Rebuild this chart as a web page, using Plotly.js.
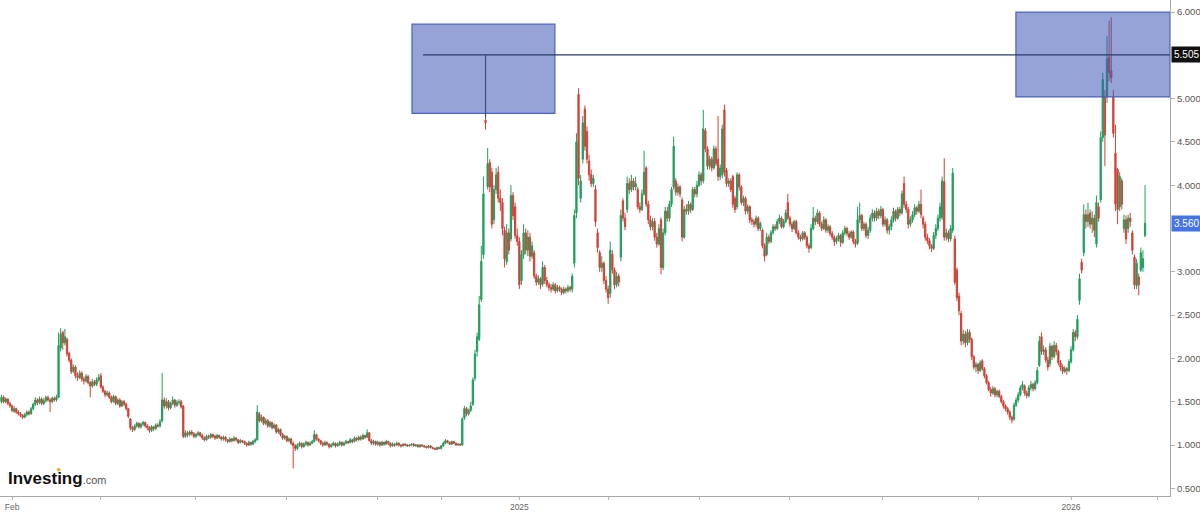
<!DOCTYPE html>
<html>
<head>
<meta charset="utf-8">
<script src="https://cdn.plot.ly/plotly-3.0.1.min.js"></script>
<style>html,body{margin:0;padding:0;background:#fff}#chart{width:1200px;height:512px}</style>
</head>
<body>
<div id="chart"></div>
<script>
// Daily OHLC, first session 2024-01-25 (weekdays only)
const openP = [
1.50,1.55,1.50,1.53,1.48,1.45,1.39,1.42,1.38,1.36,
1.34,1.32,1.35,1.38,1.36,1.42,1.47,1.52,1.49,1.53,
1.48,1.51,1.55,1.52,1.50,1.54,1.52,1.55,2.12,2.30,
2.18,2.22,2.06,1.98,1.85,1.90,1.80,1.78,1.83,1.76,
1.74,1.79,1.72,1.68,1.73,1.70,1.75,1.80,1.67,1.62,
1.58,1.60,1.55,1.50,1.56,1.48,1.52,1.45,1.50,1.47,
1.42,1.30,1.20,1.18,1.22,1.25,1.21,1.24,1.26,1.22,
1.20,1.17,1.21,1.19,1.23,1.22,1.28,1.52,1.45,1.50,
1.43,1.48,1.52,1.46,1.49,1.50,1.45,1.10,1.14,1.12,
1.15,1.13,1.10,1.12,1.14,1.11,1.08,1.06,1.10,1.09,
1.12,1.10,1.08,1.11,1.09,1.07,1.09,1.06,1.04,1.07,
1.05,1.08,1.06,1.03,1.05,1.04,1.02,1.00,1.03,1.01,
1.04,1.06,1.36,1.28,1.32,1.25,1.28,1.22,1.26,1.20,
1.23,1.15,1.18,1.12,1.08,1.10,1.05,1.07,1.02,0.99,
0.96,1.00,1.02,0.98,1.01,1.03,1.00,1.02,1.04,1.12,
1.07,1.05,1.02,1.00,1.03,1.01,0.98,1.00,1.02,0.99,
1.01,1.03,1.00,1.02,1.04,1.03,1.06,1.04,1.08,1.06,
1.09,1.07,1.11,1.09,1.14,1.05,1.02,1.04,1.01,1.03,
1.00,1.03,1.01,1.04,1.02,0.99,1.01,1.00,1.02,1.00,
0.99,1.01,1.00,0.99,1.00,1.01,0.99,1.00,0.98,1.00,
0.99,0.98,0.97,0.99,0.97,0.96,0.95,0.97,0.96,0.99,
1.02,1.05,1.03,1.01,1.04,1.02,1.00,1.01,1.00,1.31,
1.42,1.36,1.40,1.47,1.77,2.08,2.22,2.68,3.20,4.75,
3.98,4.26,4.15,3.60,3.95,4.15,3.85,3.80,3.48,3.12,
3.45,3.38,3.88,3.75,3.42,3.35,2.90,3.20,3.45,3.25,
3.40,3.18,3.22,2.95,2.88,2.92,2.86,3.05,2.90,2.85,
2.82,2.80,2.85,2.78,2.82,2.80,2.76,2.80,2.78,2.82,
2.80,3.10,3.68,5.05,3.85,4.30,4.88,4.62,4.28,4.12,
4.02,3.95,3.45,3.22,3.05,3.10,2.90,2.80,2.75,3.20,
3.02,2.85,2.95,3.17,3.82,3.62,3.72,4.02,3.95,4.05,
3.98,3.95,3.75,3.72,3.90,4.20,3.78,3.60,3.52,3.58,
3.40,3.32,3.60,3.05,3.45,3.70,3.62,3.78,3.98,4.05,
3.92,3.98,3.83,3.40,3.72,3.70,3.78,3.72,3.95,3.90,
4.00,4.12,4.05,4.63,4.42,4.22,4.30,4.20,4.42,4.30,
4.10,4.12,4.87,4.17,4.02,4.05,4.10,3.85,3.75,4.12,
3.98,3.80,3.85,3.70,3.75,3.60,3.58,3.55,3.62,3.50,
3.48,3.30,3.20,3.40,3.35,3.45,3.52,3.50,3.58,3.62,
3.52,3.58,3.80,3.62,3.55,3.50,3.58,3.45,3.40,3.38,
3.45,3.40,3.30,3.28,3.50,3.62,3.58,3.68,3.55,3.50,
3.60,3.48,3.52,3.44,3.40,3.35,3.38,3.42,3.34,3.45,
3.50,3.44,3.40,3.46,3.35,3.33,3.60,3.65,3.50,3.55,
3.42,3.48,3.62,3.68,3.62,3.70,3.65,3.72,3.55,3.60,
3.48,3.52,3.60,3.70,3.62,3.72,3.68,4.02,3.78,3.72,
3.55,3.60,3.66,3.74,3.70,3.78,3.62,3.55,3.40,3.36,
3.30,3.27,3.42,3.50,3.62,3.63,4.04,3.40,3.45,3.38,
3.48,3.38,3.02,2.72,2.52,2.20,2.28,2.18,2.30,2.22,
2.02,1.90,1.93,1.86,1.97,1.88,1.80,1.72,1.64,1.60,
1.65,1.58,1.62,1.56,1.50,1.45,1.42,1.38,1.32,1.30,
1.46,1.52,1.58,1.66,1.68,1.60,1.57,1.66,1.70,1.65,
1.72,1.92,2.25,2.08,2.10,1.98,1.94,2.14,2.02,2.15,
2.08,1.95,1.90,1.85,1.88,1.86,1.96,2.10,2.30,2.25,
2.67,3.11,3.22,3.66,3.58,3.68,3.55,3.62,3.32,3.75,
3.83,4.55,5.02,5.02,5.48,5.32,5.02,4.37,4.18,3.75,
4.05,3.50,3.60,3.50,3.62,3.45,3.17,2.84,2.94,3.02,3.05,3.42
];
const highP = [
1.58,1.57,1.55,1.54,1.50,1.47,1.45,1.43,1.40,1.38,
1.36,1.37,1.40,1.40,1.44,1.49,1.55,1.54,1.56,1.55,
1.54,1.57,1.57,1.54,1.56,1.56,1.58,2.30,2.35,2.32,
2.34,2.24,2.08,2.00,1.93,1.92,1.84,1.86,1.85,1.79,
1.82,1.81,1.74,1.76,1.75,1.78,1.82,1.83,1.69,1.64,
1.63,1.62,1.57,1.58,1.57,1.54,1.54,1.52,1.52,1.49,
1.43,1.31,1.22,1.24,1.27,1.26,1.26,1.28,1.27,1.24,
1.22,1.23,1.22,1.25,1.25,1.30,1.83,1.55,1.54,1.52,
1.50,1.56,1.53,1.52,1.53,1.52,1.46,1.17,1.16,1.17,
1.17,1.15,1.14,1.16,1.15,1.13,1.10,1.12,1.12,1.14,
1.13,1.12,1.13,1.12,1.10,1.11,1.10,1.07,1.09,1.08,
1.10,1.09,1.07,1.07,1.06,1.05,1.03,1.05,1.04,1.06,
1.08,1.46,1.38,1.35,1.33,1.31,1.30,1.28,1.27,1.25,
1.24,1.20,1.19,1.14,1.12,1.11,1.09,1.08,1.04,1.01,
1.02,1.04,1.03,1.03,1.05,1.04,1.04,1.06,1.17,1.13,
1.08,1.06,1.04,1.05,1.04,1.02,1.02,1.04,1.03,1.03,
1.05,1.04,1.04,1.06,1.05,1.08,1.07,1.10,1.09,1.11,
1.11,1.13,1.12,1.18,1.15,1.07,1.06,1.05,1.05,1.04,
1.05,1.04,1.06,1.05,1.03,1.03,1.02,1.04,1.03,1.01,
1.02,1.02,1.01,1.01,1.02,1.02,1.01,1.01,1.01,1.01,
1.00,0.99,1.00,1.00,0.98,0.97,0.98,0.98,1.00,1.04,
1.07,1.06,1.04,1.05,1.05,1.03,1.02,1.02,1.32,1.45,
1.44,1.42,1.50,1.78,2.10,2.30,2.72,3.30,4.10,4.78,
4.43,4.30,4.20,4.00,4.20,4.22,3.95,3.85,3.52,3.55,
3.50,4.00,3.92,3.80,3.50,3.40,3.25,3.55,3.50,3.48,
3.45,3.35,3.25,2.98,2.96,2.94,3.12,3.08,2.94,2.88,
2.86,2.88,2.87,2.85,2.84,2.82,2.83,2.82,2.85,2.84,
2.98,3.72,4.60,5.12,4.12,4.80,4.92,4.68,4.35,4.18,
4.12,4.00,3.50,3.25,3.18,3.12,2.95,2.84,3.35,3.25,
3.05,3.00,2.98,3.72,3.85,3.68,4.10,4.08,4.12,4.08,
4.10,3.98,3.80,3.95,4.40,4.22,3.82,3.65,3.62,3.62,
3.45,3.55,3.63,3.50,3.75,3.75,3.82,3.98,4.56,4.08,
4.02,4.00,3.86,3.76,3.78,3.82,3.80,3.98,3.98,4.05,
4.16,4.15,4.87,4.66,4.45,4.34,4.33,4.46,4.45,4.80,
4.24,4.70,4.93,4.20,4.08,4.08,4.12,3.88,4.15,4.14,
4.00,3.88,3.87,3.78,3.77,3.63,3.61,3.65,3.64,3.58,
3.50,3.33,3.45,3.43,3.48,3.55,3.55,3.61,3.66,3.64,
3.61,3.72,3.90,3.65,3.58,3.60,3.60,3.48,3.43,3.47,
3.47,3.42,3.33,3.55,3.75,3.65,3.72,3.70,3.58,3.64,
3.62,3.55,3.54,3.47,3.42,3.41,3.45,3.44,3.48,3.53,
3.52,3.47,3.48,3.48,3.38,3.75,3.80,3.67,3.58,3.57,
3.52,3.66,3.72,3.71,3.74,3.73,3.76,3.74,3.64,3.62,
3.55,3.64,3.74,3.72,3.75,3.75,3.94,4.10,3.82,3.75,
3.64,3.70,3.78,3.76,3.82,3.95,3.65,3.58,3.44,3.39,
3.32,3.46,3.55,3.66,3.80,4.10,4.31,3.50,3.48,3.54,
4.20,3.42,3.05,2.76,2.55,2.33,2.32,2.34,2.33,2.24,
2.04,1.96,1.95,1.98,1.99,1.90,1.82,1.74,1.67,1.68,
1.67,1.64,1.64,1.58,1.52,1.47,1.44,1.40,1.34,1.49,
1.55,1.61,1.69,1.74,1.70,1.63,1.69,1.74,1.72,1.75,
1.90,2.26,2.30,2.15,2.13,2.02,2.18,2.16,2.20,2.18,
2.10,1.98,1.93,1.91,1.90,1.99,2.14,2.34,2.33,2.50,
2.98,3.15,3.78,3.72,3.80,3.72,3.70,3.66,3.88,3.80,
4.62,5.30,5.10,5.72,5.90,5.94,5.10,4.70,4.20,4.15,
4.08,3.66,3.65,3.66,3.68,3.48,3.20,3.15,2.98,3.28,3.25,4.00
];
const lowP = [
1.48,1.48,1.48,1.46,1.43,1.38,1.37,1.36,1.34,1.32,
1.30,1.31,1.33,1.34,1.35,1.40,1.45,1.46,1.47,1.46,
1.46,1.49,1.50,1.38,1.48,1.50,1.50,1.54,2.08,2.10,
2.15,2.02,1.95,1.82,1.83,1.77,1.74,1.76,1.73,1.70,
1.72,1.70,1.55,1.66,1.68,1.68,1.73,1.65,1.60,1.55,
1.56,1.53,1.48,1.49,1.46,1.46,1.43,1.44,1.45,1.40,
1.31,1.17,1.15,1.16,1.20,1.19,1.19,1.22,1.20,1.17,
1.14,1.15,1.16,1.17,1.20,1.20,1.26,1.42,1.42,1.40,
1.41,1.46,1.43,1.44,1.46,1.42,1.08,1.08,1.09,1.10,
1.11,1.08,1.08,1.10,1.09,1.06,1.04,1.05,1.07,1.07,
1.08,1.06,1.07,1.07,1.05,1.05,1.04,1.02,1.03,1.03,
1.04,1.04,1.01,1.02,1.02,1.00,0.98,0.99,0.99,1.00,
1.02,1.05,1.26,1.26,1.23,1.23,1.20,1.20,1.18,1.18,
1.13,1.13,1.10,1.06,1.06,1.03,1.03,1.00,0.73,0.93,
0.94,0.98,0.96,0.97,0.99,0.98,0.99,1.01,1.03,1.05,
1.03,1.00,0.98,0.99,0.99,0.96,0.97,0.99,0.97,0.98,
0.99,0.98,0.99,1.01,1.01,1.02,1.02,1.03,1.04,1.05,
1.05,1.06,1.07,1.08,1.04,1.00,1.00,0.99,0.99,0.98,
0.99,0.99,1.00,1.00,0.97,0.98,0.98,0.99,0.98,0.97,
0.98,0.99,0.98,0.98,0.99,0.98,0.98,0.97,0.97,0.98,
0.97,0.96,0.96,0.96,0.95,0.94,0.94,0.95,0.95,0.98,
1.01,1.02,1.00,1.00,1.01,0.99,0.99,0.99,0.99,1.29,
1.33,1.34,1.38,1.45,1.74,2.02,2.20,2.65,3.15,4.64,
3.95,3.92,3.50,3.55,3.90,3.80,3.70,3.42,3.05,3.08,
3.20,3.35,3.60,3.38,3.30,2.80,2.85,3.15,3.20,3.18,
3.12,3.15,2.92,2.84,2.85,2.80,2.83,2.86,2.82,2.78,
2.76,2.78,2.75,2.76,2.77,2.73,2.74,2.75,2.76,2.77,
2.76,3.05,3.62,4.00,3.80,4.25,4.40,4.25,4.05,3.98,
3.98,3.52,3.22,3.00,3.00,2.86,2.76,2.63,2.70,2.98,
2.80,2.82,2.83,3.12,3.58,3.48,3.68,3.90,3.92,3.94,
3.94,3.72,3.68,3.70,3.88,3.75,3.55,3.48,3.48,3.36,
3.28,3.30,2.97,3.02,3.42,3.58,3.58,3.75,3.95,3.88,
3.88,3.86,3.35,3.38,3.66,3.66,3.68,3.70,3.86,3.86,
3.98,4.00,4.02,4.38,4.18,4.18,4.16,4.18,4.22,4.05,
4.06,4.08,4.10,3.98,3.98,3.92,3.74,3.68,3.72,3.94,
3.77,3.76,3.66,3.67,3.56,3.54,3.51,3.52,3.47,3.47,
3.27,3.12,3.18,3.32,3.33,3.43,3.47,3.48,3.55,3.50,
3.50,3.56,3.60,3.52,3.46,3.48,3.43,3.37,3.35,3.36,
3.37,3.27,3.22,3.26,3.48,3.54,3.55,3.52,3.47,3.48,
3.45,3.45,3.41,3.37,3.30,3.32,3.35,3.29,3.32,3.42,
3.41,3.37,3.38,3.32,3.28,3.31,3.56,3.47,3.47,3.39,
3.38,3.45,3.58,3.58,3.59,3.61,3.62,3.52,3.52,3.44,
3.43,3.48,3.57,3.58,3.60,3.64,3.66,3.74,3.68,3.50,
3.52,3.57,3.63,3.66,3.68,3.62,3.50,3.36,3.32,3.26,
3.23,3.25,3.38,3.47,3.58,3.60,3.36,3.36,3.34,3.35,
3.45,2.85,2.66,2.50,2.15,2.16,2.13,2.15,2.18,1.98,
1.87,1.84,1.82,1.84,1.86,1.77,1.70,1.62,1.56,1.58,
1.55,1.55,1.54,1.48,1.42,1.39,1.35,1.29,1.25,1.28,
1.44,1.49,1.56,1.63,1.57,1.54,1.55,1.63,1.62,1.63,
1.70,1.90,2.04,2.04,1.95,1.86,1.90,1.98,2.00,2.04,
1.92,1.86,1.82,1.83,1.81,1.84,1.94,2.08,2.20,2.22,
2.62,2.98,3.18,3.50,3.52,3.50,3.45,3.40,3.28,3.58,
3.80,4.50,4.22,4.95,5.20,5.18,4.55,3.70,3.55,3.70,
3.72,3.45,3.32,3.45,3.52,3.20,2.80,2.80,2.73,3.00,3.00,3.40
];
const closeP = [
1.55,1.50,1.53,1.48,1.45,1.40,1.42,1.38,1.36,1.34,
1.32,1.35,1.38,1.36,1.42,1.47,1.52,1.49,1.53,1.48,
1.51,1.55,1.52,1.50,1.54,1.52,1.55,2.15,2.28,2.18,
2.25,2.05,1.98,1.85,1.90,1.80,1.78,1.83,1.76,1.74,
1.79,1.72,1.68,1.73,1.70,1.75,1.78,1.67,1.62,1.58,
1.60,1.55,1.50,1.56,1.48,1.52,1.45,1.50,1.47,1.42,
1.33,1.20,1.18,1.22,1.25,1.21,1.24,1.26,1.22,1.20,
1.17,1.21,1.19,1.23,1.22,1.27,1.52,1.45,1.50,1.43,
1.48,1.52,1.46,1.49,1.50,1.44,1.10,1.14,1.12,1.15,
1.13,1.10,1.12,1.14,1.11,1.08,1.06,1.10,1.09,1.12,
1.10,1.08,1.11,1.09,1.07,1.09,1.06,1.04,1.07,1.05,
1.08,1.06,1.03,1.05,1.04,1.02,1.00,1.03,1.01,1.04,
1.06,1.38,1.28,1.32,1.25,1.28,1.22,1.26,1.20,1.23,
1.15,1.18,1.12,1.08,1.10,1.05,1.07,1.02,0.99,0.96,
1.00,1.02,0.98,1.01,1.03,1.00,1.02,1.04,1.12,1.07,
1.05,1.02,1.00,1.03,1.01,0.98,1.00,1.02,0.99,1.01,
1.03,1.00,1.02,1.04,1.03,1.06,1.04,1.08,1.06,1.09,
1.07,1.11,1.09,1.14,1.05,1.02,1.04,1.01,1.03,1.00,
1.03,1.01,1.04,1.02,0.99,1.01,1.00,1.02,1.00,0.99,
1.01,1.00,0.99,1.00,1.01,0.99,1.00,0.98,1.00,0.99,
0.98,0.97,0.99,0.97,0.96,0.95,0.97,0.96,0.99,1.02,
1.05,1.03,1.01,1.04,1.02,1.00,1.01,1.00,1.30,1.42,
1.36,1.40,1.45,1.75,2.05,2.25,2.62,3.12,3.90,4.72,
4.25,3.98,3.55,3.95,4.12,3.85,3.80,3.50,3.15,3.45,
3.25,3.88,3.65,3.42,3.35,2.85,3.20,3.45,3.25,3.40,
3.18,3.30,2.95,2.88,2.92,2.85,3.05,2.90,2.85,2.82,
2.80,2.85,2.78,2.82,2.80,2.76,2.80,2.78,2.82,2.80,
2.95,3.65,4.50,4.08,4.05,4.72,4.45,4.30,4.12,4.02,
4.08,3.58,3.28,3.05,3.10,2.90,2.80,2.70,3.25,3.02,
2.85,2.95,2.88,3.65,3.62,3.52,4.02,3.95,4.05,3.98,
4.02,3.75,3.72,3.90,4.15,3.78,3.60,3.52,3.58,3.40,
3.32,3.50,3.05,3.45,3.70,3.62,3.78,3.95,4.45,3.92,
3.98,3.90,3.40,3.72,3.70,3.78,3.72,3.95,3.90,4.00,
4.12,4.05,4.65,4.42,4.22,4.30,4.20,4.42,4.25,4.10,
4.20,4.65,4.15,4.02,4.05,3.95,3.78,3.72,4.12,3.98,
3.80,3.85,3.70,3.75,3.60,3.58,3.55,3.62,3.50,3.56,
3.30,3.18,3.40,3.35,3.45,3.52,3.50,3.58,3.62,3.52,
3.58,3.68,3.62,3.55,3.50,3.58,3.45,3.40,3.38,3.45,
3.40,3.30,3.27,3.50,3.62,3.58,3.68,3.55,3.50,3.60,
3.48,3.52,3.44,3.40,3.35,3.38,3.42,3.34,3.45,3.50,
3.44,3.40,3.46,3.35,3.32,3.60,3.65,3.50,3.55,3.42,
3.48,3.62,3.68,3.62,3.70,3.65,3.72,3.55,3.60,3.48,
3.52,3.60,3.70,3.62,3.72,3.68,3.90,3.78,3.72,3.55,
3.60,3.66,3.74,3.70,3.78,3.66,3.55,3.40,3.36,3.30,
3.27,3.42,3.50,3.62,3.75,4.05,3.40,3.45,3.38,3.50,
4.14,2.88,2.70,2.55,2.20,2.28,2.18,2.30,2.22,2.02,
1.90,1.93,1.86,1.95,1.88,1.80,1.72,1.64,1.60,1.65,
1.58,1.62,1.56,1.50,1.45,1.42,1.38,1.32,1.29,1.46,
1.52,1.58,1.66,1.70,1.60,1.57,1.66,1.70,1.65,1.72,
1.86,2.20,2.08,2.10,1.98,1.90,2.14,2.02,2.15,2.08,
1.95,1.90,1.85,1.88,1.86,1.96,2.10,2.30,2.25,2.45,
2.92,3.02,3.66,3.58,3.66,3.55,3.62,3.48,3.80,3.62,
4.55,5.22,4.58,5.46,5.30,5.24,4.60,3.78,3.72,4.10,
3.78,3.60,3.38,3.62,3.58,3.25,2.85,3.10,2.85,3.22,3.15,3.56
];
// axis labels (3.500 and 5.500 sit under the price flags)
const yTicks = [0.5,1,1.5,2,2.5,3,4,4.5,5,6];
const xTickDates = ['2024-02-01','2024-04-01','2024-06-03','2024-08-01','2024-10-01','2024-11-12','2025-01-02','2025-03-03','2025-05-01','2025-07-01','2025-09-01','2025-11-03','2026-01-02','2026-03-02'];
const xTickText  = ['Feb','','','','','','2025','','','','','','2026',''];
const markedLevel = 5.505;
const lastPrice = 3.560;

// trading-day calendar (weekdays)
const dates = [];
for (let d = new Date(Date.UTC(2024,0,25)); d <= new Date(Date.UTC(2026,2,10)); d.setUTCDate(d.getUTCDate()+1)) {
  const w = d.getUTCDay();
  if (w !== 0 && w !== 6) dates.push(d.toISOString().slice(0,10));
}
const idx = s => dates.findIndex(v => v >= s);
const xs = closeP.map((_, i) => i);

const green = '#1f9e5c', red = '#cf4238';
const trace = {
  type: 'candlestick',
  x: xs, open: openP, high: highP, low: lowP, close: closeP,
  text: xs.map(i => dates[i]),
  increasing: {line: {color: green, width: 1}, fillcolor: green},
  decreasing: {line: {color: red, width: 1}, fillcolor: red},
  whiskerwidth: 0,
  hoverinfo: 'none'
};

const xMax = 552.8;
const boxFill = 'rgba(62,88,180,0.55)';
const boxLine = 'rgba(70,92,190,0.95)';
const layout = {
  width: 1200, height: 512,
  margin: {l: 0, r: 30, t: 0, b: 16},
  paper_bgcolor: '#ffffff', plot_bgcolor: '#ffffff',
  showlegend: false,
  boxgap: 0.15,
  font: {family: 'Liberation Sans, Arial, sans-serif'},
  xaxis: {
    range: [-0.7, xMax], showgrid: false, zeroline: false,
    showline: true, linecolor: '#a9a9a9', linewidth: 1,
    ticks: 'outside', ticklen: 3, tickcolor: '#b5b5b5',
    tickvals: xTickDates.map(idx), ticktext: xTickText,
    tickfont: {size: 8.5, color: '#666'},
    rangeslider: {visible: false}, automargin: false, fixedrange: true
  },
  yaxis: {
    side: 'right', range: [0.411, 6.139], showgrid: false, zeroline: false,
    showline: true, linecolor: '#a9a9a9', linewidth: 1,
    ticks: 'outside', ticklen: 4, tickcolor: '#b5b5b5',
    tickvals: yTicks, tickformat: '.3f',
    tickfont: {size: 9.5, color: '#555'}, automargin: false, fixedrange: true
  },
  shapes: [
    {type: 'rect', xref: 'x', yref: 'y', x0: 194.2, x1: 261.8, y0: 4.83, y1: 5.86,
     fillcolor: boxFill, line: {color: boxLine, width: 1.2}, layer: 'above'},
    {type: 'rect', xref: 'x', yref: 'y', x0: 479.9, x1: xMax, y0: 5.02, y1: 6.0,
     fillcolor: boxFill, line: {color: boxLine, width: 1.2}, layer: 'above'},
    {type: 'line', xref: 'x', yref: 'y', x0: 199.4, x1: xMax, y0: markedLevel, y1: markedLevel,
     line: {color: '#2b3a6b', width: 1.2}, layer: 'above'},
    {type: 'line', xref: 'x', yref: 'y', x0: 229, x1: 229, y0: markedLevel, y1: 4.78,
     line: {color: '#3a4c7a', width: 1.2}, layer: 'above'},
    {type: 'circle', xref: 'paper', yref: 'paper', x0: 56.8/1170, x1: 60.4/1170, y0: (496-471.6)/496, y1: (496-468)/496,
     fillcolor: '#f5a623', line: {width: 0}, layer: 'above'}
  ],
  annotations: [
    {xref: 'paper', yref: 'y', x: 1, y: markedLevel, xanchor: 'left', yanchor: 'middle', xshift: 1,
     text: markedLevel.toFixed(3), showarrow: false, bgcolor: '#111111', borderpad: 2,
     font: {color: '#ffffff', size: 10}},
    {xref: 'paper', yref: 'y', x: 1, y: lastPrice, xanchor: 'left', yanchor: 'middle', xshift: 1,
     text: lastPrice.toFixed(3), showarrow: false, bgcolor: '#4574e6', borderpad: 2,
     font: {color: '#ffffff', size: 10}},
    {xref: 'paper', yref: 'paper', x: 6/1170, y: (496-478)/496, xanchor: 'left', yanchor: 'middle',
     text: '<b>Investing</b><span style="font-size:11px;color:#555">.com</span>', showarrow: false,
     font: {color: '#111111', size: 17}}
  ]
};

Plotly.newPlot('chart', [trace], layout, {staticPlot: true, displayModeBar: false});
</script>
</body>
</html>
